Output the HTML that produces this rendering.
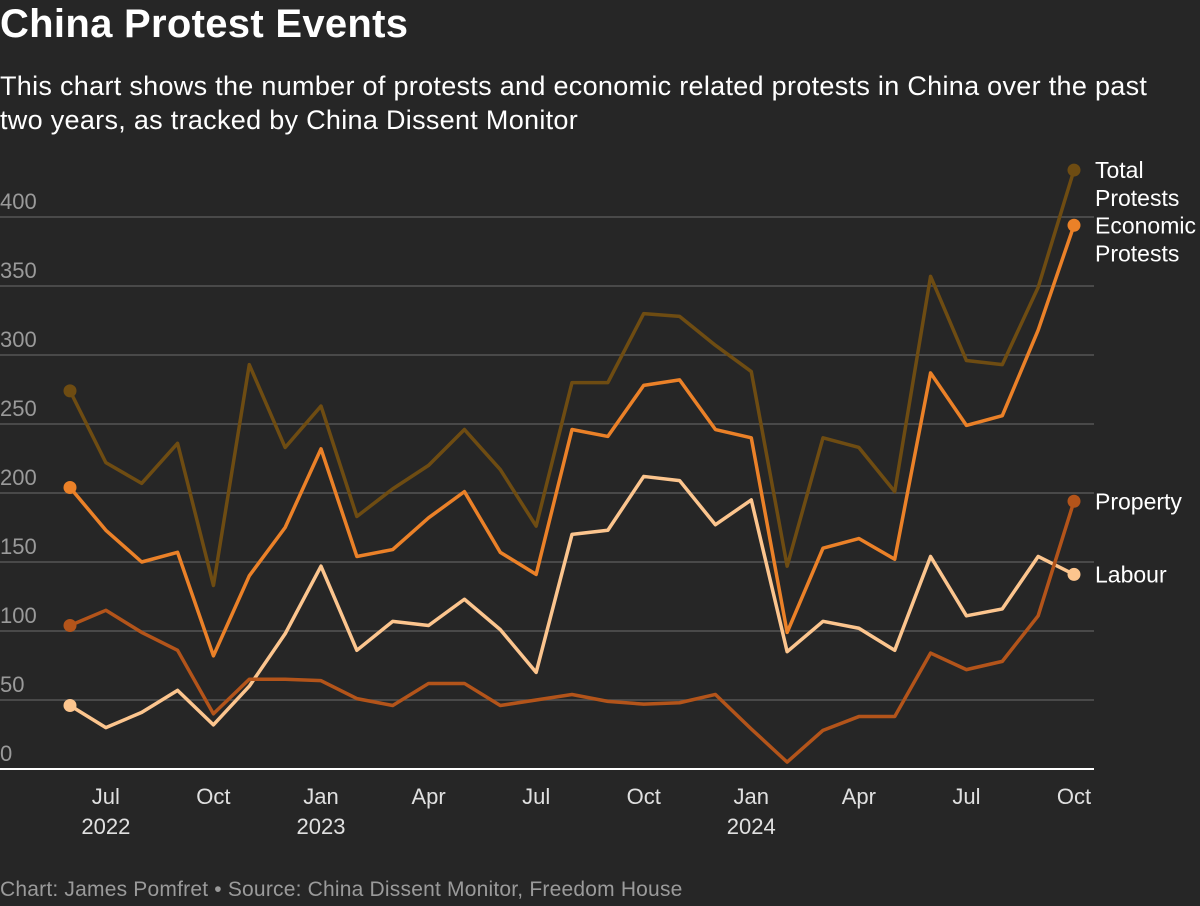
<!DOCTYPE html>
<html><head><meta charset="utf-8"><style>
html,body{margin:0;padding:0;background:#262626;width:1200px;height:906px;overflow:hidden;font-family:"Liberation Sans",sans-serif;color:#fff}
#title{position:absolute;left:0;top:2px;font-size:40px;font-weight:bold;margin:0;letter-spacing:0.3px}
#sub{position:absolute;left:0;top:69px;font-size:27px;line-height:34px;width:1180px;letter-spacing:0.3px}
#foot{position:absolute;left:0;top:878px;font-size:21px;color:#9a9a9a;letter-spacing:0.2px}
svg{position:absolute;left:0;top:0}
</style></head><body>
<h1 id="title">China Protest Events</h1>
<div id="sub">This chart shows the number of protests and economic related protests in China over the past two years, as tracked by China Dissent Monitor</div>
<svg id="chart" width="1200" height="906"></svg>
<div id="foot">Chart: James Pomfret • Source: China Dissent Monitor, Freedom House</div>
<script>
const months = ["Jun22","Jul22","Aug22","Sep22","Oct22","Nov22","Dec22","Jan23","Feb23","Mar23","Apr23","May23","Jun23","Jul23","Aug23","Sep23","Oct23","Nov23","Dec23","Jan24","Feb24","Mar24","Apr24","May24","Jun24","Jul24","Aug24","Sep24","Oct24"];
const totalProtests = [274,222,207,236,133,293,233,263,183,203,220,246,217,176,280,280,330,328,307,288,147,240,233,201,357,296,293,349,434];
const economicProtests = [204,173,150,157,82,140,175,232,154,159,182,201,157,141,246,241,278,282,246,240,99,160,167,152,287,249,256,318,394];
const labourProtests = [46,30,41,57,32,60,98,147,86,107,104,123,101,70,170,173,212,209,177,195,85,107,102,86,154,111,116,154,141];
const propertyProtests = [104,115,99,86,40,65,65,64,51,46,62,62,46,50,54,49,47,48,54,29,5,28,38,38,84,72,78,111,194];
const yTicks = [0,50,100,150,200,250,300,350,400];
const xTickIdx = [1,4,7,10,13,16,19,22,25,28];
const xTickLabels = ["Jul","Oct","Jan","Apr","Jul","Oct","Jan","Apr","Jul","Oct"];
const xYearLabels = ["2022","","2023","","","","2024","","",""];

const NS="http://www.w3.org/2000/svg";
const svg=document.getElementById('chart');
const x=i=>70+i*(1074-70)/28;
const y=v=>769-v*1.38;
function mk(t,a){const e=document.createElementNS(NS,t);for(const k in a)e.setAttribute(k,a[k]);svg.appendChild(e);return e;}

yTicks.forEach(v=>{
  if(v>0){const g=mk('line',{x1:0,x2:1094,y1:y(v),y2:y(v),stroke:'#555','stroke-width':1.5});
  
  }
  const t=mk('text',{x:0,y:y(v)-8,fill:'#9a9a9a','font-size':22,'font-family':'Liberation Sans'});
  t.textContent=v;
  
  
});
const base=mk('line',{x1:0,x2:1094,y1:769,y2:769,stroke:'#fff','stroke-width':2});


xTickIdx.forEach((idx,k)=>{
  const t=mk('text',{x:x(idx),y:804,fill:'#e0e0e0','font-size':22,'text-anchor':'middle','font-family':'Liberation Sans'});
  t.textContent=xTickLabels[k];
  
  
  if(xYearLabels[k]){const yy=mk('text',{x:x(idx),y:834,fill:'#e0e0e0','font-size':22,'text-anchor':'middle','font-family':'Liberation Sans'});
  yy.textContent=xYearLabels[k];
  
  }
});

const series=[
 {d:totalProtests,c:'#6e4c12',n:'total-protests',lab:['Total','Protests']},
 {d:economicProtests,c:'#eb8128',n:'economic-protests',lab:['Economic','Protests']},
 {d:labourProtests,c:'#fcc58e',n:'labour-protests',lab:['Labour']},
 {d:propertyProtests,c:'#b3541a',n:'property-protests',lab:['Property']}
];
series.forEach(s=>{
  const p=mk('polyline',{points:s.d.map((v,i)=>x(i)+','+y(v)).join(' '),fill:'none',stroke:s.c,'stroke-width':3.5,'stroke-linejoin':'round'});
  
  
  [0,s.d.length-1].forEach(i=>{
    const c=mk('circle',{cx:x(i),cy:y(s.d[i]),r:6.5,fill:s.c});
    
    
  });
  const last=s.d[s.d.length-1];
  const ly=y(last)+8;
  s.lab.forEach((l,j)=>{
    const t=mk('text',{x:1095,y:ly+j*28,fill:'#fff','font-size':23,'font-family':'Liberation Sans'});
    t.textContent=l;
    
    
  });
});
</script>
</body></html>
